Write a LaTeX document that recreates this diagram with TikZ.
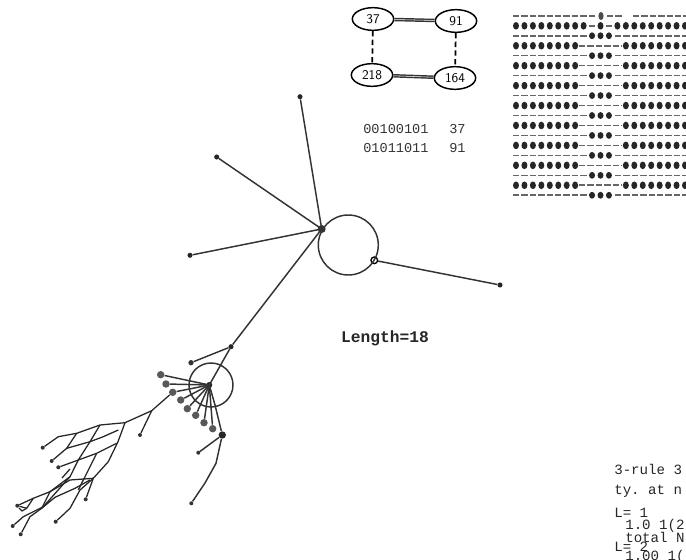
\documentclass[tikz,border=0pt]{standalone}
\usepackage{fontspec}
\setmonofont{Liberation Mono}
\usetikzlibrary{shapes.geometric}

\tikzset{
    state/.style={draw, ellipse, line width=1.1pt, inner sep=0pt, minimum width=31pt, minimum height=17pt, font=\sffamily},
    tip/.style={circle, fill=black!85, inner sep=0pt, minimum size=3.8pt},
    bigtip/.style={circle, fill=black!65, inner sep=0pt, minimum size=5.6pt},
    smalltip/.style={circle, fill=black!80, inner sep=0pt, minimum size=3pt},
    ring/.style={circle, draw, line width=1pt, inner sep=0pt, minimum size=5pt},
    edge/.style={black!80, line width=1.1pt},
    twig/.style={black!85, line width=0.95pt, line join=round},
    cell/.style={black!60, line width=1.2pt, dash pattern=on 4.8pt off 1.5pt},
    plain/.style={font=\ttfamily\fontsize{10.2}{12}\selectfont, text=black!80, inner sep=0pt, anchor=west},
    printout/.style={font=\ttfamily\fontsize{10.6}{12}\selectfont, text=black!85, inner sep=0pt, anchor=west},
}

\begin{document}
\begin{tikzpicture}[x=0.75pt, y=-0.75pt]
    \useasboundingbox (0,0) rectangle (686,560);
    \clip (0,0) rectangle (686,560);

    % state cycle
    \node[state] (s37) at (373,19) {37};
    \node[state] (s91) at (456,21) {91};
    \node[state] (s218) at (372,75) {218};
    \node[state] (s164) at (455,78) {164};
    \draw[edge, double, double distance=0.4pt] (s37) -- (s91);
    \draw[edge, double, double distance=0.4pt] (s218) -- (s164);
    \draw[line width=1.3pt, dash pattern=on 4pt off 2.5pt] (s37) -- (s218);
    \draw[line width=1.3pt, dash pattern=on 4pt off 2.5pt] (s91) -- (s164);

    \node[plain] (bits1) at (363,129) {00100101};
    \node[plain] (num1) at (449,129) {37};
    \node[plain] (bits2) at (363,148) {01011011};
    \node[plain] (num2) at (449,148) {91};

    % space-time pattern
    \draw[cell] (513,16) -- (596,16);
    \fill[black!70] (601,16) ellipse [x radius=2.6, y radius=4];
    \draw[cell] (607,16) -- (622,16);
    \draw[cell] (633,16) -- (686,16);
    \foreach \i in {0,...,8,10,12,13,...,20}
        \fill[black!85] ({516+8.45*\i},25.8) ellipse [x radius=3, y radius=3.8];
    \draw[cell] (589,25.8) -- (595,25.8);
    \draw[cell] (606,25.8) -- (612,25.8);
    \foreach \r in {2,4,...,18} {
        \draw[cell] (513,{15.8+9.97*\r}) -- (589,{15.8+9.97*\r});
        \draw[cell] (615,{15.8+9.97*\r}) -- (686,{15.8+9.97*\r});
        \foreach \i in {9,10,11}
            \fill[black!85] ({516+8.45*\i},{15.8+9.97*\r}) ellipse [x radius=3, y radius=3.4];
    }
    \foreach \r in {3,5,...,17} {
        \foreach \i in {0,...,7,13,14,...,20}
            \fill[black!85] ({516+8.45*\i},{15.8+9.97*\r}) ellipse [x radius=3, y radius=3.8];
        \draw[cell] (579,{15.8+9.97*\r}) -- (622,{15.8+9.97*\r});
    }

    % upper basin
    \coordinate (hub) at (321.7,229);
    \node[ring] (gate) at (374.3,260.3) {};
    \node[tip] (topleaf) at (300,96.7) {};
    \node[tip] (leftleaf) at (216.7,157) {};
    \node[tip] (lowleaf) at (190,255.3) {};
    \node[tip] (rightleaf) at (500,285) {};
    \node[tip] (joint) at (231,346.7) {};
    \fill[black!80] (hub) circle [radius=4];
    \draw[edge] (348.3,245) circle [radius=30];
    \draw[edge] (hub) -- (topleaf);
    \draw[edge] (hub) -- (leftleaf);
    \draw[edge] (hub) -- (lowleaf);
    \draw[edge] (hub) -- (joint);
    \draw[edge] (gate) -- (rightleaf);

    \node[font=\ttfamily\bfseries\fontsize{12.2}{14}\selectfont, text=black!85, inner sep=0pt] (length) at (385,338) {Length=18};

    % lower basin
    \coordinate (core) at (209.3,385);
    \coordinate (exit) at (215,405);
    \node[smalltip, minimum size=4pt] (upleaf) at (191,362.7) {};
    \node[bigtip] (f1) at (160.7,374.7) {};
    \node[bigtip] (f2) at (166,384) {};
    \node[bigtip] (f3) at (172.7,392.3) {};
    \node[bigtip] (f4) at (180.7,400) {};
    \node[bigtip] (f5) at (187.3,408.7) {};
    \node[bigtip] (f6) at (195.7,415.3) {};
    \node[bigtip] (f7) at (204,422.7) {};
    \node[bigtip] (f8) at (212.7,428.7) {};
    \node[tip, minimum size=5.5pt] (elbow) at (222.3,435) {};
    \node[smalltip] (elbowleaf) at (198.3,452.7) {};
    \node[smalltip] (tail) at (191.3,503.3) {};
    \node[smalltip] (twigleaf) at (140,435) {};
    \fill[black!85] (core) circle [radius=3];
    \draw[edge] (211,385) circle [radius=22];
    \draw[edge] (joint) -- (core);
    \draw[edge] (joint) -- (upleaf);
    \foreach \f in {f1,f2,f3,f4,f5,f6,f7,f8}
        \draw[edge] (core) -- (\f);
    \draw[edge] (core) -- (exit) -- (elbow);
    \draw[edge] (elbow) -- (elbowleaf);
    \draw[edge] (elbow) -- (216,463.3) -- (205,483) -- (tail);

    % branching tree
    \coordinate (root) at (125,422.7);
    \coordinate (fork) at (151.7,410.7);
    \node[smalltip] (a) at (42.7,447.7) {};
    \node[smalltip] (b) at (51.7,461) {};
    \node[smalltip] (c) at (58.3,467.3) {};
    \node[smalltip] (d) at (17.3,505.7) {};
    \node[smalltip] (e) at (12.7,526) {};
    \node[smalltip] (f) at (20.7,534.3) {};
    \node[smalltip] (g) at (55.7,521.7) {};
    \node[smalltip] (h) at (85.7,499.3) {};
    \draw[twig] (f3) -- (fork) -- (root);
    \draw[twig] (fork) -- (twigleaf);
    \draw[twig] (root) -- (100,425) -- (76.7,433.3) -- (58.3,436.7) -- (a);
    \draw[twig] (root) -- (118,441.7) -- (108.3,461.7) -- (93.3,478.3) -- (80,490) -- (70,508.3) -- (g);
    \draw[twig] (100,425) -- (90,441.7) -- (78.3,460) -- (70,476.7) -- (50,491.7) -- (33.3,498.3) -- (d);
    \draw[twig] (76.7,433.3) -- (66.7,448.3) -- (b);
    \draw[twig] (118.3,430) -- (103.3,436.7) -- (90,441.7) -- (66.7,448.3);
    \draw[twig] (116.7,443.3) -- (96.7,453.3) -- (78.3,460) -- (c);
    \draw[twig] (96.7,453.3) -- (86.7,473.3) -- (78.3,490);
    \draw[twig] (93.3,478.3) -- (h);
    \draw[twig] (93.3,478.3) -- (70,480) -- (50,491.7) -- (41.7,508.3) -- (30,516.7) -- (f);
    \draw[twig] (70,476.7) -- (43.3,506.7) -- (23.3,516.7) -- (e);
    \draw[twig] (90,480) -- (75,488.3) -- (55,497.3) -- (41.7,508.3);
    \draw[twig] (33.3,498.3) -- (26.7,508.3) -- (d);
    \draw[twig] (70,469) -- (62,478);
    \draw[twig] (26.7,508.3) -- (22,511) -- (19,508);

    % printout
    \node[printout] (rule) at (614,469) {3-rule 3};
    \node[printout] (note) at (614,491.5) {ty. at n};
    \node[printout] (l1) at (614,513) {L= 1};
    \node[printout] (freq1) at (625,526) {1.0 1(2)};
    \node[printout] (total) at (625,537) {total N};
    \node[printout] (l2) at (614,547) {L= 2};
    \node[printout] (freq2) at (625,557) {1.00 1(};
\end{tikzpicture}
\end{document}
